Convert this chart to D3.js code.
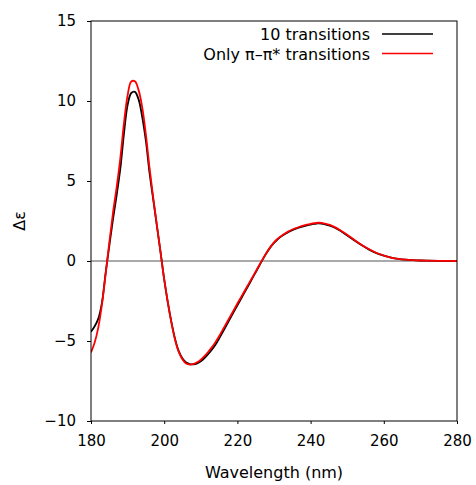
<!DOCTYPE html>
<html>
<head>
<meta charset="utf-8">
<script src="https://cdn.jsdelivr.net/npm/d3@7"></script>
<style>
  html, body { margin: 0; padding: 0; background: #fff; }
  svg { display: block; }
  text { font-family: "DejaVu Sans", sans-serif; fill: #000; }
</style>
</head>
<body>
<svg id="chart" width="476" height="485"></svg>
<script>
const wavelengths = [
  180,181,182,183,184,185,186,187,188,189,190,191,192,193,194,195,196,197,198,199,
  200,201,202,203,204,205,206,207,208,209,210,211,212,213,214,215,216,217,218,219,
  220,221,222,223,224,225,226,227,228,229,230,231,232,233,234,235,236,237,238,239,
  240,241,242,243,244,245,246,247,248,250,252,254,256,258,260,262,264,266,268,270,
  272,275,280
];
const tenTransitions = [
  -4.42,-4.08,-3.6,-2.6,-0.75,0.95,2.6,4.1,5.75,7.95,9.75,10.5,10.57,10.1,9.0,7.5,5.5,3.85,2.2,0.55,
  -1.15,-2.6,-3.85,-4.9,-5.65,-6.1,-6.35,-6.45,-6.46,-6.40,-6.27,-6.07,-5.82,-5.55,-5.24,-4.85,-4.44,-4.02,-3.60,-3.18,
  -2.77,-2.36,-1.94,-1.53,-1.12,-0.70,-0.28,0.13,0.51,0.85,1.13,1.36,1.54,1.69,1.82,1.93,2.02,2.10,2.17,2.23,
  2.28,2.32,2.35,2.34,2.29,2.23,2.14,2.03,1.90,1.60,1.28,0.98,0.71,0.49,0.33,0.21,0.13,0.08,0.05,0.03,
  0.02,0.01,0.00
];
const piPiStarOnly = [
  -5.72,-5.1,-4.15,-2.7,-0.8,1.15,3.0,4.6,6.4,8.6,10.35,11.22,11.23,10.68,9.6,7.9,5.8,3.95,2.25,0.55,
  -1.15,-2.6,-3.9,-4.95,-5.7,-6.15,-6.4,-6.47,-6.43,-6.33,-6.17,-5.95,-5.69,-5.40,-5.07,-4.70,-4.30,-3.89,-3.48,-3.07,
  -2.66,-2.26,-1.86,-1.46,-1.06,-0.66,-0.25,0.15,0.53,0.87,1.16,1.39,1.57,1.72,1.85,1.97,2.06,2.14,2.21,2.27,
  2.32,2.36,2.39,2.38,2.33,2.27,2.18,2.07,1.94,1.64,1.31,1.00,0.73,0.50,0.34,0.21,0.13,0.08,0.05,0.03,
  0.02,0.01,0.00
];
const seriesNames = ["10 transitions", "Only \u03c0\u2013\u03c0* transitions"];
const seriesColors = ["#000000", "#ff0000"];
const xTicks = [180, 200, 220, 240, 260, 280];
const yTicks = [-10, -5, 0, 5, 10, 15];
const xLabel = "Wavelength (nm)";
const yLabel = "\u0394\u03b5";

const margin = { left: 91, right: 19, top: 21, bottom: 64 };
const W = 476, H = 485;
const iw = W - margin.left - margin.right;
const ih = H - margin.top - margin.bottom;

const svg = d3.select("#chart");
const g = svg.append("g").attr("transform", `translate(${margin.left},${margin.top})`);

const x = d3.scaleLinear().domain([180, 280]).range([0, iw]);
const y = d3.scaleLinear().domain([-10, 15]).range([ih, 0]);

const fmt = d => (d < 0 ? "\u2212" + Math.abs(d) : String(d));

// zero line
g.append("line")
  .attr("x1", 0).attr("x2", iw)
  .attr("y1", y(0)).attr("y2", y(0))
  .attr("stroke", "#555").attr("stroke-width", 1);

// series
const series = [tenTransitions, piPiStarOnly];
const line = d3.line()
  .x((d, i) => x(wavelengths[i]))
  .y(d => y(d))
  .curve(d3.curveCatmullRom.alpha(0.5));

const clip = svg.append("defs").append("clipPath").attr("id", "clip");
clip.append("rect").attr("x", 0).attr("y", 0).attr("width", iw).attr("height", ih);

series.forEach((s, k) => {
  g.append("path")
    .datum(s)
    .attr("clip-path", "url(#clip)")
    .attr("fill", "none")
    .attr("stroke", seriesColors[k])
    .attr("stroke-width", 1.8)
    .attr("stroke-linejoin", "round")
    .attr("d", line);
});

// axes
const xAxis = g.append("g")
  .attr("transform", `translate(0,${ih})`)
  .call(d3.axisBottom(x).tickValues(xTicks).tickSize(3).tickSizeOuter(0).tickPadding(11).tickFormat(fmt));
const yAxis = g.append("g")
  .call(d3.axisLeft(y).tickValues(yTicks).tickSize(4).tickSizeOuter(0).tickPadding(11).tickFormat(fmt));
[xAxis, yAxis].forEach(a => {
  a.select(".domain").remove();
  a.selectAll("text").attr("font-family", "DejaVu Sans, sans-serif").attr("font-size", 15).attr("fill", "#000");
  a.selectAll("line").attr("stroke", "#000");
});

// frame
g.append("rect")
  .attr("x", 0).attr("y", 0).attr("width", iw).attr("height", ih)
  .attr("fill", "none").attr("stroke", "#000").attr("stroke-width", 1);

// axis labels
svg.append("text")
  .attr("x", margin.left + iw / 2).attr("y", 478)
  .attr("text-anchor", "middle").attr("font-size", 16)
  .text(xLabel);
svg.append("text")
  .attr("transform", `translate(25,${margin.top + ih / 2}) rotate(-90)`)
  .attr("text-anchor", "middle").attr("font-size", 16)
  .text(yLabel);

// legend
const legendY = [34, 53.5];
seriesNames.forEach((name, k) => {
  svg.append("text")
    .attr("x", 370).attr("y", legendY[k] + 6)
    .attr("text-anchor", "end").attr("font-size", 16)
    .text(name);
  svg.append("line")
    .attr("x1", 382).attr("x2", 433)
    .attr("y1", legendY[k]).attr("y2", legendY[k])
    .attr("stroke", seriesColors[k]).attr("stroke-width", 1.5);
});
</script>
</body>
</html>
